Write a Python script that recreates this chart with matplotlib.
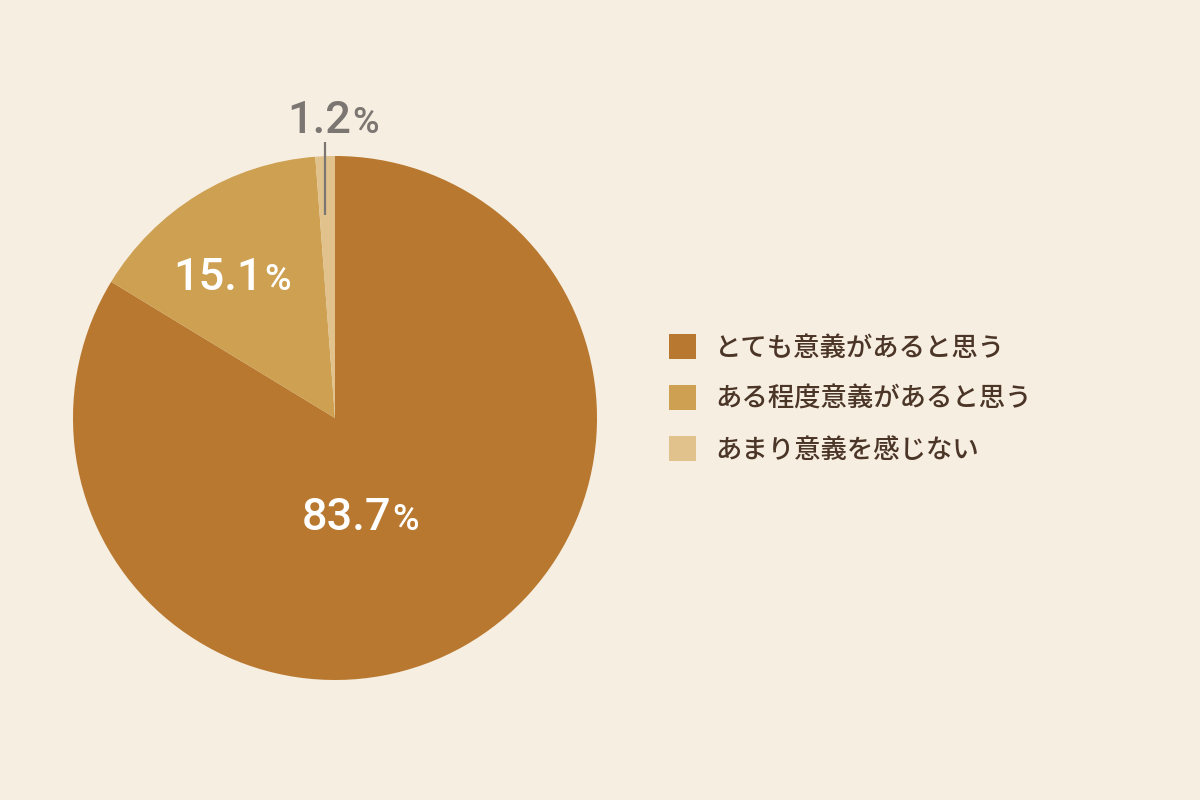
import numpy as np
import matplotlib.pyplot as plt

plt.rcParams['font.family'] = ['Noto Sans CJK JP', 'DejaVu Sans']

# data
labels = ['とても意義があると思う', 'ある程度意義があると思う', 'あまり意義を感じない']
values = [83.7, 15.1, 1.2]
colors = ['#B9782F', '#CDA052', '#E1C28C']
bg = '#F6EEE1'

fig = plt.figure(figsize=(12, 8), dpi=100, facecolor=bg)
# pie centred at (335, 418) px, radius 262 px
cx, cy, r = 335, 418, 262
ax = fig.add_axes([(cx - r) / 1200, (800 - cy - r) / 800, 2 * r / 1200, 2 * r / 800])
ax.set_facecolor(bg)

wedges, _ = ax.pie(values, colors=colors, startangle=90, counterclock=False,
                   radius=1.0, wedgeprops=dict(linewidth=0))
ax.set_xlim(-1, 1)
ax.set_ylim(-1, 1)
ax.set_aspect('equal')
ax.axis('off')

num_font = ['Roboto', 'DejaVu Sans']


def pct_label(x, y, value, color):
    # number and a smaller % sign, joined at (x, y) on the baseline
    ax.text(x, y, f'{value:.1f}', ha='right', va='baseline', fontsize=32.5,
            color=color, fontweight='medium', family=num_font, clip_on=False)
    ax.text(x + 0.006, y, '%', ha='left', va='baseline', fontsize=26,
            color=color, fontweight='medium', family=num_font, clip_on=False)


pct_label(0.214, -0.427, values[0], 'white')
pct_label(-0.275, 0.489, values[1], 'white')
pct_label(0.061, 1.088, values[2], '#7B7671')

# leader line for the small slice
mid = np.deg2rad(90 + values[2] / 2 / 100 * 360)
lx = np.cos(mid)
ax.plot([lx, lx], [0.775, 1.053], color='#7B7671', lw=1.6, clip_on=False,
        solid_capstyle='butt')

fig.legend(wedges, labels, loc='center left', bbox_to_anchor=(645 / 1200, 1 - 399 / 800),
           frameon=False, handlelength=1.05, handleheight=1.05,
           handletextpad=0.7, labelspacing=0.9, labelcolor='#4B3527',
           prop=dict(size=19, weight='medium'))

fig.savefig('out.png', dpi=100, facecolor=bg)
